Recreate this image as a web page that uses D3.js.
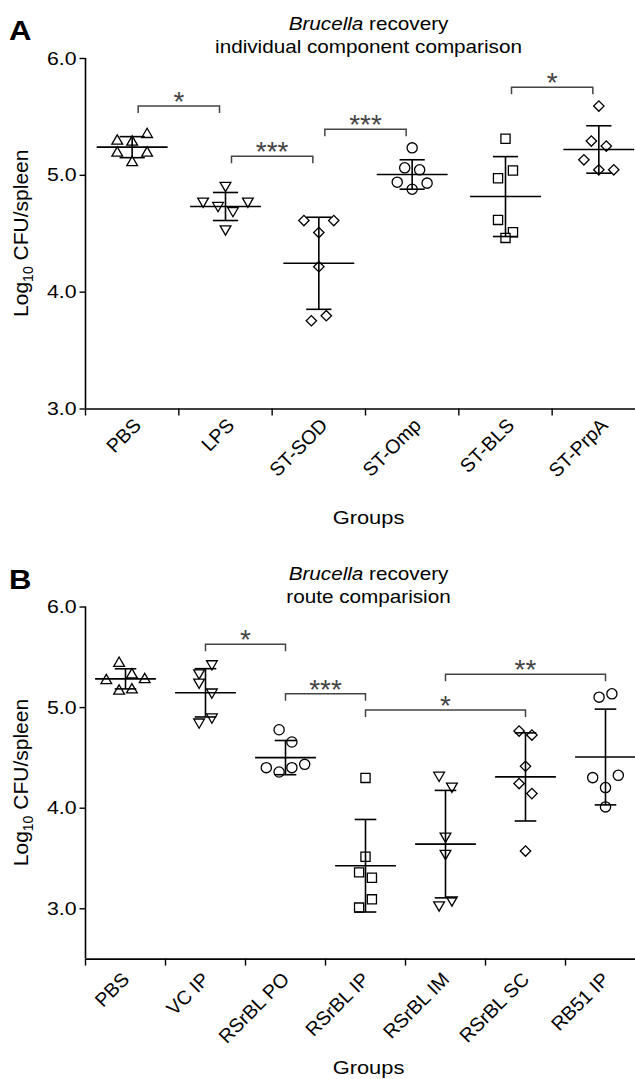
<!DOCTYPE html>
<html><head><meta charset="utf-8">
<script src="https://cdn.jsdelivr.net/npm/d3@7"></script>
<style>body{margin:0;background:#fff} svg{display:block}</style>
</head><body><svg id="c" width="635" height="1079"></svg>
<script>
// ---------- Panel A data ----------
const groupsA = ["PBS","LPS","ST-SOD","ST-Omp","ST-BLS","ST-PrpA"];
const shapesA = ["triUp","triDown","diamond","circle","square","diamond"];
const pointsA = [
  [5.289,5.280,5.346,5.186,5.106,5.186],
  [4.909,4.774,4.737,4.694,4.774,4.537],
  [4.609,4.506,4.609,4.214,3.751,3.794],
  [5.231,5.060,5.043,4.937,4.877,4.929],
  [5.309,4.971,5.037,4.614,4.509,4.460],
  [5.589,5.289,5.246,5.129,5.043,5.043]
];
const meansA = [5.237,4.729,4.243,5.003,4.814,5.217];
const sdA    = [0.090,0.120,0.394,0.126,0.342,0.203];
const sigA = [
  {from:0,to:1,y:5.59,label:"*"},
  {from:1,to:2,y:5.16,label:"***"},
  {from:2,to:3,y:5.39,label:"***"},
  {from:4,to:5,y:5.75,label:"*"}
];
const ticksA = [3,4,5,6];

// ---------- Panel B data ----------
const groupsB = ["PBS","VC IP","RSrBL PO","RSrBL IP","RSrBL IM","RSrBL SC","RB51 IP"];
const shapesB = ["triUp","triDown","circle","square","triDown","diamond","circle"];
const pointsB = [
  [5.436,5.321,5.264,5.159,5.172,5.274],
  [5.340,5.430,5.248,5.149,4.851,4.901],
  [4.775,4.653,4.398,4.355,4.398,4.431],
  [4.296,3.512,3.357,3.304,3.007,3.089],
  [4.322,4.213,3.717,3.545,3.033,3.083],
  [4.762,4.722,4.412,4.240,4.140,3.569],
  [5.099,5.132,4.299,4.200,4.322,4.008]
];
const meansB = [5.281,5.142,4.498,3.423,3.638,4.306,4.504];
const sdB    = [0.100,0.240,0.170,0.460,0.534,0.438,0.476];
const sigB = [
  {from:1,to:2,y:5.624,label:"*"},
  {from:2,to:3,y:5.133,label:"***"},
  {from:3,to:5,y:4.971,label:"*"},
  {from:4,to:6,y:5.326,label:"**"}
];
const ticksB = [3,4,5,6];

const svg = d3.select("#c");
const FONT = "'Liberation Sans', Arial, Helvetica, sans-serif";
const SX = 1.15; // horizontal stretch of the original typography

function stretchedText(g, x, y){
  return g.append("text")
    .attr("transform", `translate(${x},${y}) scale(${SX},1)`)
    .attr("font-family", FONT);
}

const symbolGen = {
  triUp:   {type: d3.symbolTriangle, size: 50, rot: 0},
  triDown: {type: d3.symbolTriangle, size: 50, rot: 180},
  circle:  {type: d3.symbolCircle, size: 82, rot: 0},
  square:  {type: d3.symbolSquare, size: 84, rot: 0},
  diamond: {type: d3.symbolSquare, size: 54, rot: 45}
};

// GraphPad-like scatter: points whose y lie close together form a row,
// and each row is spread symmetrically around the group centre.
function swarm(values, y, rowTol, spacing){
  const idx = values.map((v,i)=>i).sort((a,b)=>values[b]-values[a]);
  const rows = [];
  idx.forEach(i => {
    const py = y(values[i]);
    const r = rows[rows.length-1];
    if (r && Math.abs(py - r.y0) < rowTol) r.items.push(i);
    else rows.push({y0: py, items:[i]});
  });
  const out = [];
  rows.forEach(r => {
    r.items.sort((a,b)=>a-b);
    const n = r.items.length;
    r.items.forEach((i,k) => out.push({v: values[i], py: y(values[i]), dx: (k-(n-1)/2)*spacing}));
  });
  return out;
}

function panel(cfg){
  const g = svg.append("g");
  const x = d3.scaleBand().domain(cfg.groups).range([cfg.left, cfg.left + cfg.width]).padding(0);
  const y = d3.scaleLinear().domain(cfg.domain).range([cfg.bottom, cfg.top]);
  const bw = x.bandwidth();

  // y axis
  const ya = g.append("g").attr("transform", `translate(${cfg.left},0)`)
    .call(d3.axisLeft(y).tickValues(cfg.ticks).tickFormat(d3.format(".1f")).tickSize(6).tickSizeOuter(0));
  ya.select(".domain").attr("stroke","#000").attr("stroke-width",1.6)
    .attr("d", `M0,${y(cfg.ticks[cfg.ticks.length-1])}V${cfg.bottom}`);
  ya.selectAll(".tick line").attr("stroke","#000").attr("stroke-width",1.4);
  ya.selectAll(".tick text").remove();
  cfg.ticks.forEach(t => {
    stretchedText(g, cfg.left - 9, y(t) + 6.5).attr("text-anchor","end")
      .attr("font-size",18.5).attr("fill","#000").text(d3.format(".1f")(t));
  });

  // x axis
  const xa = g.append("g").attr("transform", `translate(0,${cfg.bottom})`)
    .call(d3.axisBottom(x).tickSize(0).tickSizeOuter(0));
  xa.select(".domain").attr("stroke","#000").attr("stroke-width",1.6);
  xa.selectAll(".tick").remove();
  g.selectAll(".xt").data(cfg.groups).enter().append("line")
    .attr("x1", d => x(d)).attr("x2", d => x(d))
    .attr("y1", cfg.bottom).attr("y2", cfg.bottom + 7)
    .attr("stroke","#000").attr("stroke-width",1.4);
  cfg.groups.forEach(gr => {
    const cx = x(gr) + bw/2;
    g.append("text")
      .attr("transform", `translate(${cx + cfg.labDx},${cfg.bottom + cfg.labDy}) rotate(-45)`)
      .attr("font-family", FONT).attr("text-anchor","end").attr("font-size",19.5)
      .attr("fill","#000").text(gr);
  });

  // axis titles
  stretchedText(g, cfg.left + 283, cfg.groupsY).attr("text-anchor","middle")
    .attr("font-size",19).text("Groups");
  const yl = g.append("text")
    .attr("transform", `translate(${cfg.ylabX},${(cfg.top+cfg.bottom)/2}) rotate(-90)`)
    .attr("font-family", FONT).attr("font-size",21).attr("text-anchor","middle");
  yl.append("tspan").text("Log");
  yl.append("tspan").attr("font-size",14).attr("dy",5).text("10");
  yl.append("tspan").attr("dy",-5).text(" CFU/spleen");

  // title
  const t1 = stretchedText(g, cfg.left + 283, cfg.titleY).attr("text-anchor","middle").attr("font-size",18);
  t1.append("tspan").attr("font-style","italic").text("Brucella");
  t1.append("tspan").text(" recovery");
  stretchedText(g, cfg.left + 283, cfg.titleY + 23).attr("text-anchor","middle").attr("font-size",18).text(cfg.subtitle);

  // panel letter
  stretchedText(g, cfg.letterX, cfg.letterY).attr("font-size",27).attr("font-weight","bold").text(cfg.letter);

  // data
  cfg.points.forEach((vals, i) => {
    const gr = cfg.groups[i];
    const cx = x(gr) + bw/2;
    const sh = symbolGen[cfg.shapes[i]];
    const sym = d3.symbol().type(sh.type).size(sh.size);
    const pl = swarm(vals, y, 13, bw*0.16);
    g.selectAll(null).data(pl).enter().append("path")
      .attr("d", sym())
      .attr("transform", d => `translate(${cx + d.dx},${d.py}) rotate(${sh.rot})`)
      .attr("fill","#fff").attr("stroke","#000").attr("stroke-width",1.3);
    const m = cfg.means[i], s = cfg.sds[i];
    const mh = bw*0.38, ch = bw*0.135;
    const lg = g.append("g").attr("stroke","#000").attr("stroke-width",1.6);
    lg.append("line").attr("x1",cx-mh).attr("x2",cx+mh).attr("y1",y(m)).attr("y2",y(m));
    lg.append("line").attr("x1",cx).attr("x2",cx).attr("y1",y(m+s)).attr("y2",y(m-s));
    lg.append("line").attr("x1",cx-ch).attr("x2",cx+ch).attr("y1",y(m+s)).attr("y2",y(m+s));
    lg.append("line").attr("x1",cx-ch).attr("x2",cx+ch).attr("y1",y(m-s)).attr("y2",y(m-s));
  });

  // significance brackets
  cfg.sig.forEach(b => {
    const x1 = x(cfg.groups[b.from]) + bw/2 + cfg.inset;
    const x2 = x(cfg.groups[b.to]) + bw/2 - cfg.inset;
    const yy = y(b.y);
    g.append("path").attr("d", `M${x1},${yy+7}V${yy}H${x2}V${yy+7}`)
      .attr("fill","none").attr("stroke","#444").attr("stroke-width",1.5);
    g.append("text").attr("x",(x1+x2)/2).attr("y",yy+5)
      .attr("text-anchor","middle").attr("font-family",FONT).attr("font-size",28)
      .attr("fill","#444").text(b.label);
  });
}

panel({groups:groupsA, shapes:shapesA, points:pointsA, means:meansA, sds:sdA, sig:sigA,
  ticks:ticksA, domain:[3,6], left:85.5, width:560, top:58, bottom:408.5,
  inset:6, labDx:10, labDy:18, groupsY:524, ylabX:28, titleY:30,
  subtitle:"individual component comparison", letter:"A", letterX:9, letterY:40});

panel({groups:groupsB, shapes:shapesB, points:pointsB, means:meansB, sds:sdB, sig:sigB,
  ticks:ticksB, domain:[2.5,6], left:85.5, width:560, top:606.5, bottom:958.6,
  inset:0, labDx:5, labDy:22, groupsY:1074, ylabX:28, titleY:580,
  subtitle:"route comparision", letter:"B", letterX:9, letterY:589});
</script></body></html>
